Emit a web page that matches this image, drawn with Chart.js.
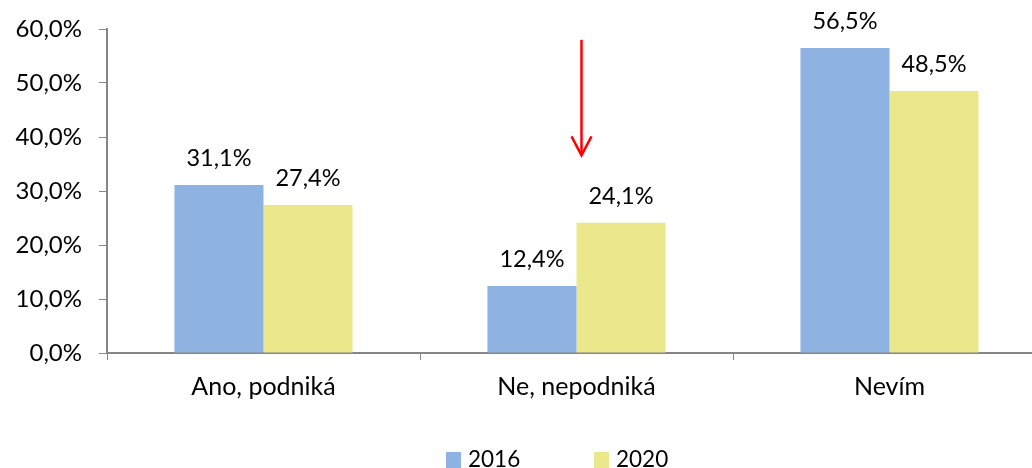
<!DOCTYPE html>
<html>
<head>
<meta charset="utf-8">
<script src="https://cdn.jsdelivr.net/npm/chart.js@4.4.1/dist/chart.umd.min.js"></script>
<style>
html,body{margin:0;padding:0;background:#fff;overflow:hidden;width:1032px;height:468px;}
#wrap{position:relative;width:1046px;height:468px;}
</style>
</head>
<body>
<div id="wrap"><canvas id="c" width="1046" height="468"></canvas></div>
<script>
const categories = ["Ano, podniká", "Ne, nepodniká", "Nevím"];
const seriesNames = ["2016", "2020"];
const values2016 = [31.1, 12.4, 56.5];
const values2020 = [27.4, 24.1, 48.5];
const seriesColors = ["#8EB3E2", "#EBE78B"];
const yTicks = [0, 10, 20, 30, 40, 50, 60];
// arrow annotation: category index, from value, to value
const arrowCategory = 1;
const arrowFrom = 58.0;
const arrowTo = 36.6;

const FONT = "Lato, 'Liberation Sans', sans-serif";
const fmt = v => v.toFixed(1).replace('.', ',') + '%';

// pick font sizes so that text widths match the reference's
const mctx = document.createElement('canvas').getContext('2d');
function sizeFor(text, targetWidth) {
  mctx.font = "100px " + FONT;
  const w = mctx.measureText(text).width;
  return Math.round(100 * targetWidth / w * 2) / 2;
}
const xLabelSize = sizeFor("Ano, podniká", 144);
const yLabelSize = sizeFor("60,0%", 67);
const dataLabelSize = sizeFor("31,1%", 65);
const legendSize = sizeFor("2016", 52);

const labelsPlugin = {
  id: 'labels',
  afterDatasetsDraw(chart) {
    const ctx = chart.ctx;
    ctx.save();
    ctx.font = dataLabelSize + "px " + FONT;
    ctx.fillStyle = "#000";
    ctx.textAlign = "center";
    ctx.textBaseline = "alphabetic";
    chart.data.datasets.forEach((ds, i) => {
      const meta = chart.getDatasetMeta(i);
      meta.data.forEach((bar, j) => {
        ctx.fillText(fmt(ds.data[j]), bar.x, bar.y - 19);
      });
    });
    // arrow
    const xs = chart.scales.x, ys = chart.scales.y;
    const ax = xs.getPixelForValue(arrowCategory) + 5;
    const y1 = ys.getPixelForValue(arrowFrom);
    const y2 = ys.getPixelForValue(arrowTo);
    ctx.strokeStyle = "#FF0000";
    ctx.lineWidth = 2.5;
    ctx.beginPath();
    ctx.moveTo(ax, y1);
    ctx.lineTo(ax, y2);
    ctx.stroke();
    ctx.beginPath();
    ctx.moveTo(ax - 10, y2 - 19);
    ctx.lineTo(ax, y2);
    ctx.lineTo(ax + 10, y2 - 19);
    ctx.stroke();
    // legend
    ctx.font = legendSize + "px " + FONT;
    ctx.textAlign = "left";
    ctx.textBaseline = "alphabetic";
    const legendX = [446, 594];
    chart.data.datasets.forEach((ds, i) => {
      ctx.fillStyle = ds.backgroundColor;
      ctx.fillRect(legendX[i], 452, 15, 16);
      ctx.fillStyle = "#000";
      ctx.fillText(ds.label, legendX[i] + 22, 467);
    });
    ctx.restore();
  }
};

new Chart(document.getElementById('c'), {
  type: 'bar',
  data: {
    labels: categories,
    datasets: [
      { label: seriesNames[0], data: values2016, backgroundColor: seriesColors[0] },
      { label: seriesNames[1], data: values2020, backgroundColor: seriesColors[1] }
    ]
  },
  options: {
    responsive: false,
    animation: false,
    events: [],
    layout: { padding: { top: 29, left: 0, right: 0, bottom: 0 } },
    categoryPercentage: 0.569,
    barPercentage: 1.0,
    plugins: { legend: { display: false }, tooltip: { enabled: false } },
    scales: {
      x: {
        grid: { display: true, drawOnChartArea: false, offset: true, color: "#868686", tickLength: 7, tickColor: "#868686" },
        border: { color: "#868686", width: 2 },
        ticks: { font: { family: FONT, size: xLabelSize }, color: "#000", padding: 12 },
        afterFit(s) { s.height = 115; }
      },
      y: {
        min: 0, max: 60,
        afterBuildTicks(s) { s.ticks = yTicks.map(v => ({ value: v })); },
        grid: { display: true, drawOnChartArea: false, color: "#868686", tickLength: 8, tickColor: "#868686" },
        border: { color: "#868686", width: 2 },
        ticks: { font: { family: FONT, size: yLabelSize }, color: "#000", padding: 17, callback: v => fmt(v) },
        afterFit(s) { s.width = 107; s.paddingTop = 0; s.paddingBottom = 0; }
      }
    }
  },
  plugins: [labelsPlugin]
});
</script>
</body>
</html>
